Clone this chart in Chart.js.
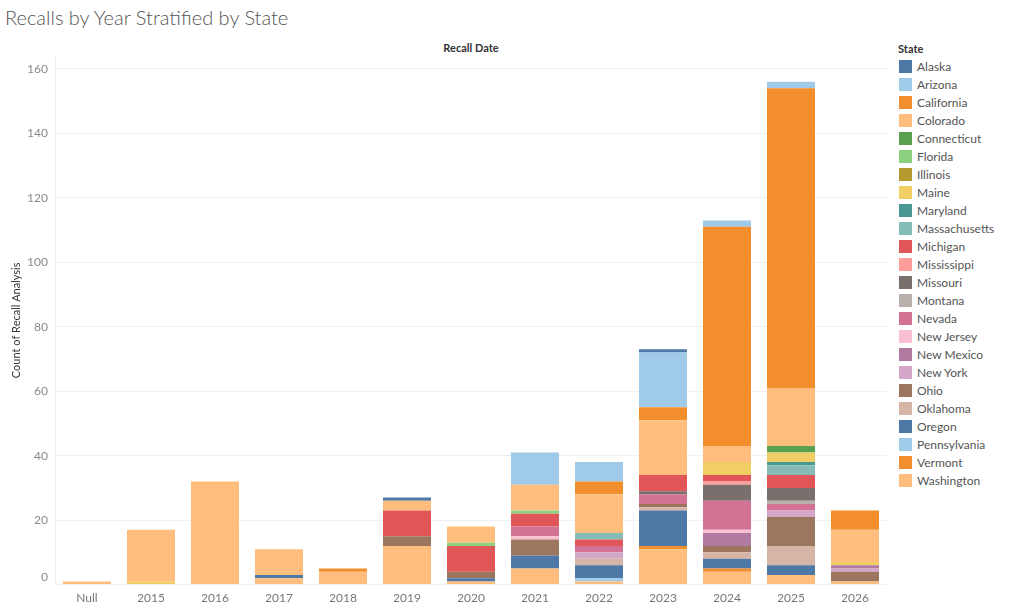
<!DOCTYPE html>
<html>
<head>
<meta charset="utf-8">
<script src="https://cdn.jsdelivr.net/npm/chart.js@4.4.1/dist/chart.umd.min.js"></script>
<style>
  html, body { margin: 0; padding: 0; background: #fff; }
  body { width: 1024px; height: 606px; position: relative; overflow: hidden; font-family: "Lato", sans-serif; }
  #title { position: absolute; left: 5px; top: 5px; font-size: 20px; font-weight: 300; color: #555; white-space: nowrap; }
  #header { position: absolute; left: 55px; width: 832px; top: 41px; text-align: center; font-size: 11px; font-weight: bold; color: #333; }
  #wrap { position: absolute; left: 0; top: 0; width: 890px; height: 606px; }
  #legend { position: absolute; left: 898px; top: 42px; font-size: 12px; color: #555; }
  #legend .ttl { font-weight: bold; color: #333; font-size: 11px; height: 15px; line-height: 14px; }
  #legend .item { height: 18px; display: flex; align-items: center; }
  #legend .sw { width: 13px; height: 13px; margin-left: 1px; margin-right: 5px; }
</style>
</head>
<body>
<div id="title">Recalls by Year Stratified by State</div>
<div id="header">Recall Date</div>
<div id="wrap"><canvas id="chart"></canvas></div>
<div id="legend"></div>
<script>
// categorias del eje x
const years = ["Null", "2015", "2016", "2017", "2018", "2019", "2020", "2021", "2022", "2023", "2024", "2025", "2026"];

// cantidad de recalls por estado (mismo orden que years)
const alaska        = [0, 0, 0, 0, 0, 1, 0, 0, 0, 1, 0, 0, 0];
const arizona       = [0, 0, 0, 0, 0, 0, 0, 10, 6, 17, 2, 2, 0];
const california    = [0, 0, 0, 0, 1, 0, 0, 0, 4, 4, 68, 93, 6];
const colorado      = [0, 16, 32, 8, 4, 3, 5, 8, 12, 17, 5, 18, 10];
const connecticut   = [0, 0, 0, 0, 0, 0, 0, 0, 0, 0, 0, 2, 0];
const florida       = [0, 0, 0, 0, 0, 0, 1, 1, 0, 0, 0, 0, 0];
const illinois      = [0, 0, 0, 0, 0, 0, 0, 0, 0, 0, 0, 0, 0];
const maine         = [0, 1, 0, 0, 0, 0, 0, 0, 0, 0, 4, 3, 1];
const maryland      = [0, 0, 0, 0, 0, 0, 0, 0, 0, 0, 0, 1, 0];
const massachusetts = [0, 0, 0, 0, 0, 0, 0, 0, 2, 0, 0, 3, 0];
const michigan      = [0, 0, 0, 0, 0, 8, 8, 4, 2, 5, 2, 4, 0];
const mississippi   = [0, 0, 0, 0, 0, 0, 0, 0, 0, 0, 1, 0, 0];
const missouri      = [0, 0, 0, 0, 0, 0, 0, 0, 0, 1, 5, 4, 0];
const montana       = [0, 0, 0, 0, 0, 0, 0, 0, 0, 0, 0, 1, 0];
const nevada        = [0, 0, 0, 0, 0, 0, 0, 3, 2, 3, 9, 2, 0];
const newJersey     = [0, 0, 0, 0, 0, 0, 0, 1, 0, 0, 1, 0, 0];
const newMexico     = [0, 0, 0, 0, 0, 0, 0, 0, 0, 0, 4, 0, 1];
const newYork       = [0, 0, 0, 0, 0, 0, 0, 0, 2, 0, 0, 2, 1];
const ohio          = [0, 0, 0, 0, 0, 3, 2, 5, 0, 1, 2, 9, 3];
const oklahoma      = [0, 0, 0, 0, 0, 0, 0, 0, 2, 1, 2, 6, 0];
const oregon        = [0, 0, 0, 1, 0, 0, 1, 4, 4, 11, 3, 3, 0];
const pennsylvania  = [0, 0, 0, 0, 0, 0, 0, 0, 1, 0, 0, 0, 0];
const vermont       = [0, 0, 0, 0, 0, 0, 0, 0, 0, 1, 1, 0, 0];
const washington    = [1, 0, 0, 2, 0, 12, 1, 5, 1, 11, 4, 3, 1];

const states = ["Alaska", "Arizona", "California", "Colorado", "Connecticut", "Florida", "Illinois", "Maine",
    "Maryland", "Massachusetts", "Michigan", "Mississippi", "Missouri", "Montana", "Nevada", "New Jersey",
    "New Mexico", "New York", "Ohio", "Oklahoma", "Oregon", "Pennsylvania", "Vermont", "Washington"];
const stateValues = [alaska, arizona, california, colorado, connecticut, florida, illinois, maine,
    maryland, massachusetts, michigan, mississippi, missouri, montana, nevada, newJersey,
    newMexico, newYork, ohio, oklahoma, oregon, pennsylvania, vermont, washington];
const stateColors = ["#4e79a7", "#a0cbe8", "#f28e2b", "#ffbe7d", "#59a14f", "#8cd17d", "#b6992d", "#f1ce63",
    "#499894", "#86bcb6", "#e15759", "#ff9d9a", "#79706e", "#bab0ac", "#d37295", "#fabfd2",
    "#b07aa1", "#d4a6c8", "#9d7660", "#d7b5a6", "#4e79a7", "#a0cbe8", "#f28e2b", "#ffbe7d"];

const yTicks = [0, 20, 40, 60, 80, 100, 120, 140, 160];

// leyenda a la derecha
const legend = document.getElementById("legend");
legend.innerHTML = '<div class="ttl">State</div>' + states.map(function (s, i) {
    return '<div class="item"><div class="sw" style="background:' + stateColors[i] + '"></div>' + s + '</div>';
}).join("");

// Washington abajo, Alaska arriba (como en Tableau)
const datasets = states.map(function (s, i) {
    return {
        label: s,
        data: stateValues[i],
        backgroundColor: stateColors[i],
        borderWidth: 0,
        barPercentage: 0.75,
        categoryPercentage: 1
    };
}).reverse();

new Chart(document.getElementById("chart"), {
    type: "bar",
    data: { labels: years, datasets: datasets },
    options: {
        responsive: true,
        maintainAspectRatio: false,
        animation: false,
        layout: { padding: { top: 56, left: 6, right: 3, bottom: 0 } },
        plugins: { legend: { display: false }, tooltip: { enabled: false } },
        scales: {
            x: {
                stacked: true,
                grid: { display: false, drawTicks: false },
                border: { display: false },
                ticks: { color: "#777", font: { family: "Lato", size: 12 }, padding: 6 },
                afterFit: function (s) { s.height = 20.5; }
            },
            y: {
                stacked: true,
                min: 0,
                max: 164,
                afterBuildTicks: function (s) { s.ticks = yTicks.map(function (v) { return { value: v }; }); },
                grid: { color: "#efefef", drawTicks: false },
                border: { display: true, color: "#efefef" },
                ticks: {
                    color: "#8a8a8a",
                    font: { family: "Lato", size: 12 },
                    padding: 7,
                    callback: function (v) { return v === 0 ? ["0", ""] : String(v); }
                },
                title: {
                    display: true,
                    text: "Count of Recall Analysis",
                    color: "#333",
                    font: { family: "Lato", size: 11 },
                    padding: { top: 4, bottom: 0 }
                },
                afterFit: function (s) { s.width = 49; }
            }
        }
    }
});
</script>
</body>
</html>
